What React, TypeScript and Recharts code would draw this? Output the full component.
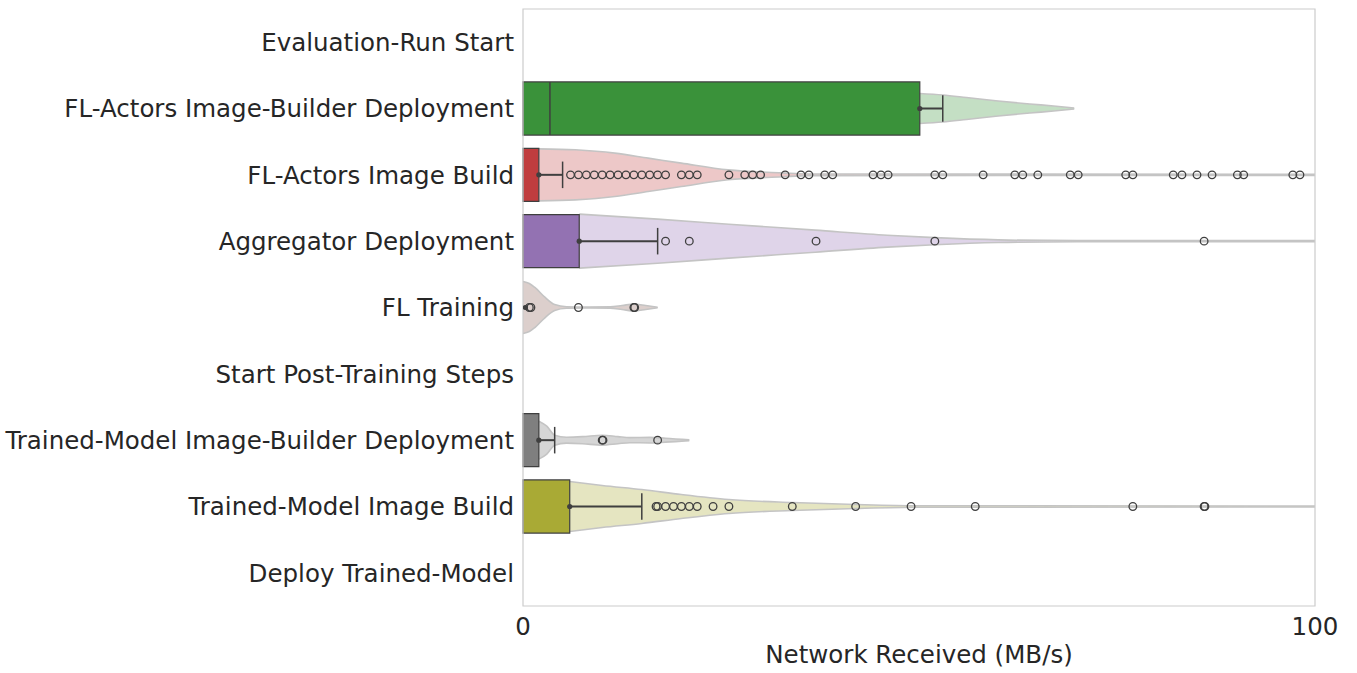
import { Area, ComposedChart, ReferenceArea, ReferenceLine, Scatter, XAxis, YAxis } from 'recharts'

const categories = [
  'Evaluation-Run Start',
  'FL-Actors Image-Builder Deployment',
  'FL-Actors Image Build',
  'Aggregator Deployment',
  'FL Training',
  'Start Post-Training Steps',
  'Trained-Model Image-Builder Deployment',
  'Trained-Model Image Build',
  'Deploy Trained-Model',
]

const boxColors = [null, '#3a923a', '#c03d3e', '#9372b2', null, null, '#7f7f7f', '#a9aa35', null]
const violinColors = [null, '#c4dfc4', '#edc8c8', '#dfd4e9', '#dccfcc', null, '#d6d6d6', '#e5e5c1', null]

// box upper quartile, median and upper whisker (lower quartile and whisker sit at 0)
const q3 = [null, 50.1, 2.0, 7.1, 0.3, null, 2.0, 5.9, null]
const medians = [null, 3.4, null, null, null, null, null, null, null]
const whiskerHi = [null, 53.0, 5.0, 17.0, null, null, 4.0, 15.0, null]

// violin half-widths, as a fraction of the row height
const violinBuilderDeploy = [[50.1, 0.226], [53, 0.204], [56, 0.166], [60, 0.113], [64, 0.068], [67, 0.038], [69.6, 0.008]]
const violinImageBuild = [[2.0, 0.392], [6.6, 0.377], [11.6, 0.327], [15.8, 0.252], [20, 0.176], [25.9, 0.075], [32.7, 0.03], [36, 0.012], [100, 0.008]]
const violinAggregator = [[7.1, 0.407], [17, 0.332], [26, 0.256], [36.9, 0.166], [46, 0.09], [52, 0.053], [60, 0.02], [70, 0.008], [100, 0.008]]
const violinTraining = [[0, 0.392], [0.8, 0.362], [1.5, 0.302], [2.8, 0.151], [4, 0.045], [5.5, 0.012], [8, 0.008], [11, 0.01], [12.5, 0.03], [14, 0.053], [15.5, 0.03], [17, 0.004]]
const violinModelBuilderDeploy = [[2.0, 0.286], [3, 0.211], [4, 0.075], [5.5, 0.045], [7.5, 0.053], [10, 0.075], [12, 0.053], [13.5, 0.038], [16, 0.042], [18, 0.03], [21, 0.006]]
const violinModelBuild = [[5.9, 0.377], [10, 0.317], [15, 0.256], [20, 0.181], [26, 0.106], [34, 0.06], [42, 0.03], [50, 0.012], [100, 0.008]]

const violins: (number[][] | null)[] = [
  null, violinBuilderDeploy, violinImageBuild, violinAggregator, violinTraining,
  null, violinModelBuilderDeploy, violinModelBuild, null,
]

const outliersImageBuild = [
  6, 7, 8, 9, 10, 11, 12, 13, 14, 15, 16, 17, 18, 20, 21, 22, 26, 28, 29, 30, 33.1, 35.1, 36.1, 38.1, 39.1,
  44.2, 45.2, 46.1, 52, 53, 58.1, 62.1, 63.1, 65, 69.1, 70.1, 76.1, 77, 82.1, 83.2, 85.1, 87, 90.2, 91, 97.2, 98.1,
]
const outliersAggregator = [18, 21, 37, 52, 86]
const outliersTraining = [0.8, 1.0, 7.0, 14.0, 14.1]
const outliersModelBuilderDeploy = [10, 10.1, 17]
const outliersModelBuild = [16.8, 17, 18, 19, 20, 21, 22, 24, 26, 34, 42, 49, 57.1, 77, 86, 86.1]

const outliers: (number[] | null)[] = [
  null, null, outliersImageBuild, outliersAggregator, outliersTraining,
  null, outliersModelBuilderDeploy, outliersModelBuild, null,
]

const text = '#262626'
const edge = '#3f3f3f'
const BOX = 0.4
const CAP = 0.2

const outlierPoints = outliers.flatMap((row, i) => (row ? row.map((x) => ({ x, y: i + 0.5 })) : []))
const whiskerDots = q3.flatMap((v, i) => (v != null ? [{ x: v, y: i + 0.5 }] : []))

export default function App() {
  return (
    <div style={{ position: 'absolute', left: 0, top: 0, background: '#fff' }}>
      <ComposedChart
        width={1357}
        height={673}
        margin={{ top: 9, right: 42, bottom: 6, left: 0 }}
        style={{ fontFamily: 'DejaVu Sans' }}
      >
        <XAxis
          type="number"
          dataKey="x"
          domain={[0, 100]}
          ticks={[0, 100]}
          allowDataOverflow
          axisLine={false}
          tickLine={false}
          tickMargin={6}
          height={61}
          tick={{ fontSize: 24.5, fill: text }}
          label={{ value: 'Network Received (MB/s)', position: 'insideBottom', offset: 4, fontSize: 24.5, fill: text }}
        />
        <YAxis
          type="number"
          dataKey="y"
          domain={[0, 9]}
          reversed
          allowDataOverflow
          ticks={categories.map((_, i) => i + 0.5)}
          interval={0}
          tickFormatter={(v) => categories[Math.floor(Number(v))]}
          width={523}
          axisLine={false}
          tickLine={false}
          tickMargin={3}
          tick={{ fontSize: 24.5, fill: text }}
        />

        {violins.map((v, i) =>
          v ? (
            <Area
              key={`violin-${i}`}
              data={v.map(([x, w]) => ({ x, r: [i + 0.5 - w, i + 0.5 + w] }))}
              dataKey="r"
              type="monotone"
              fill={violinColors[i] as string}
              fillOpacity={1}
              stroke="#c4c4c4"
              strokeWidth={1.6}
              dot={false}
              activeDot={false}
              isAnimationActive={false}
            />
          ) : null,
        )}

        {q3.map((v, i) =>
          v != null && boxColors[i] ? (
            <ReferenceArea
              key={`box-${i}`}
              x1={0}
              x2={v}
              y1={i + 0.5 - BOX}
              y2={i + 0.5 + BOX}
              fill={boxColors[i] as string}
              fillOpacity={1}
              stroke={edge}
              strokeWidth={1.2}
              ifOverflow="visible"
            />
          ) : null,
        )}

        {medians.map((m, i) =>
          m != null ? (
            <ReferenceLine
              key={`med-${i}`}
              segment={[{ x: m, y: i + 0.5 - BOX }, { x: m, y: i + 0.5 + BOX }]}
              stroke={edge}
              strokeWidth={1.5}
            />
          ) : null,
        )}

        {whiskerHi.map((w, i) =>
          w != null && q3[i] != null ? (
            <ReferenceLine
              key={`wh-${i}`}
              segment={[{ x: q3[i] as number, y: i + 0.5 }, { x: w, y: i + 0.5 }]}
              stroke={edge}
              strokeWidth={2}
            />
          ) : null,
        )}
        {whiskerHi.map((w, i) =>
          w != null ? (
            <ReferenceLine
              key={`cap-${i}`}
              segment={[{ x: w, y: i + 0.5 - CAP }, { x: w, y: i + 0.5 + CAP }]}
              stroke={edge}
              strokeWidth={1.5}
            />
          ) : null,
        )}

        <Scatter
          data={outlierPoints}
          isAnimationActive={false}
          shape={(p: any) => <circle cx={p.cx} cy={p.cy} r={3.8} fill="none" stroke={edge} strokeWidth={1.3} />}
        />
        <Scatter
          data={whiskerDots}
          isAnimationActive={false}
          shape={(p: any) => <circle cx={p.cx} cy={p.cy} r={2.6} fill={edge} />}
        />

        <ReferenceArea x1={0} x2={100} y1={0} y2={9} fill="none" stroke="#cccccc" strokeWidth={1.2} ifOverflow="visible" />
      </ComposedChart>
    </div>
  )
}
